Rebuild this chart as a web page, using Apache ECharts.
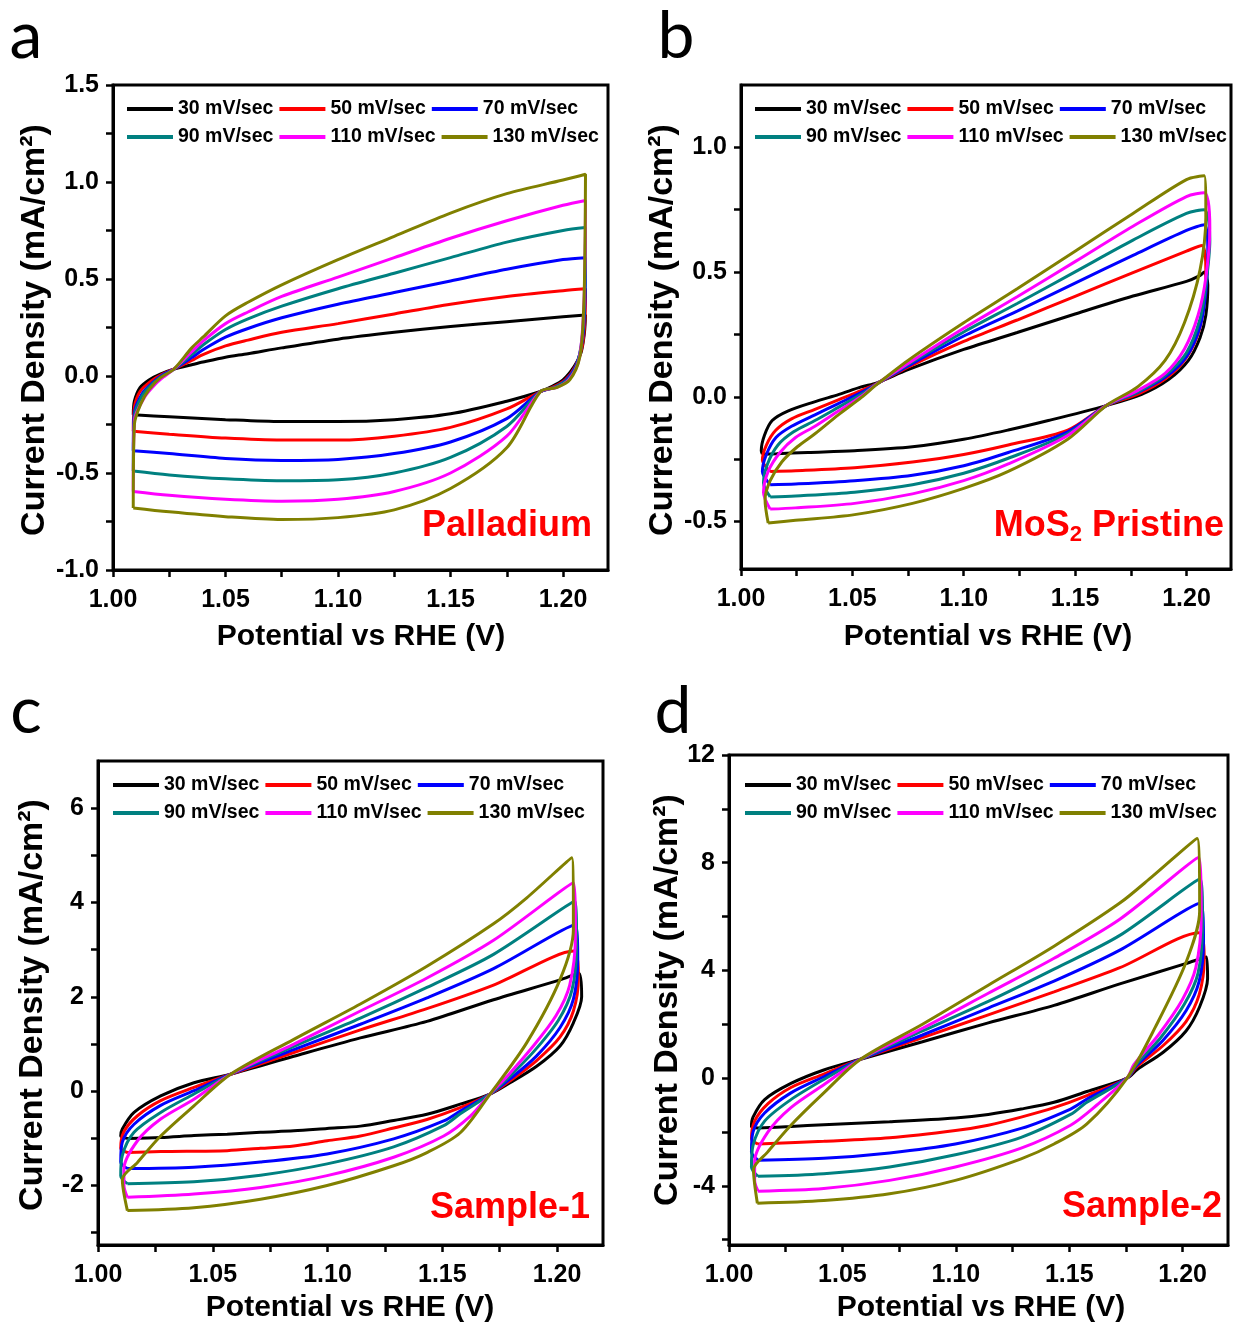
<!DOCTYPE html>
<html><head><meta charset="utf-8">
<script src="https://cdn.jsdelivr.net/npm/echarts@6/dist/echarts.min.js"></script>
<style>html,body{margin:0;padding:0;background:#fff}#c{width:1233px;height:1327px}</style>
</head><body><div id="c"></div>
<script>
const FONT = '"Liberation Sans", Arial, Helvetica, sans-serif';

// ---------- categories / ticks ----------
const rates = ['30 mV/sec', '50 mV/sec', '70 mV/sec', '90 mV/sec', '110 mV/sec', '130 mV/sec'];
const xRange = [1.0, 1.22];
const xLabelValues = [1.00, 1.05, 1.10, 1.15, 1.20];
const xTickValues = [1.00, 1.025, 1.05, 1.075, 1.10, 1.125, 1.15, 1.175, 1.20];
const aRange = [-1.0, 1.5];
const aYLabels = [-1.0, -0.5, 0.0, 0.5, 1.0, 1.5];
const aYTicks = [-1.0, -0.75, -0.5, -0.25, 0, 0.25, 0.5, 0.75, 1.0, 1.25, 1.5];
const bRange = [-0.69, 1.25];
const bYLabels = [-0.5, 0.0, 0.5, 1.0];
const bYTicks = [-0.5, -0.25, 0, 0.25, 0.5, 0.75, 1.0];
const cRange = [-3.26, 7.0];
const cYLabels = [-2, 0, 2, 4, 6];
const cYTicks = [-3, -2, -1, 0, 1, 2, 3, 4, 5, 6];
const dRange = [-6.2, 12];
const dYLabels = [-4, 0, 4, 8, 12];
const dYTicks = [-6, -4, -2, 0, 2, 4, 6, 8, 10, 12];

// ---------- panel a: Palladium (x: V vs RHE, y: mA/cm2) ----------
const a30 = [[1.009,-0.20],[1.0095,-0.13],[1.012,-0.06],[1.016,-0.02],[1.021,0.01],[1.027,0.035],[1.035,0.058],[1.04,0.072],[1.05,0.097],[1.06,0.115],[1.075,0.145],[1.10,0.19],[1.125,0.225],[1.15,0.255],[1.175,0.28],[1.20,0.305],[1.21,0.315],[1.2095,0.22],[1.208,0.12],[1.205,0.05],[1.20,-0.02],[1.194,-0.06],[1.19,-0.08],[1.175,-0.13],[1.15,-0.195],[1.125,-0.225],[1.10,-0.235],[1.075,-0.235],[1.05,-0.225],[1.025,-0.21],[1.009,-0.20]];
const a50 = [[1.009,-0.285],[1.0095,-0.16],[1.012,-0.08],[1.017,-0.025],[1.022,0.01],[1.027,0.035],[1.035,0.08],[1.04,0.11],[1.05,0.155],[1.06,0.185],[1.075,0.225],[1.10,0.27],[1.125,0.32],[1.15,0.37],[1.175,0.41],[1.20,0.44],[1.21,0.45],[1.2098,0.30],[1.2085,0.15],[1.2055,0.05],[1.201,-0.02],[1.195,-0.06],[1.19,-0.08],[1.175,-0.17],[1.15,-0.265],[1.125,-0.31],[1.10,-0.33],[1.075,-0.33],[1.05,-0.32],[1.025,-0.30],[1.009,-0.285]];
const a70 = [[1.009,-0.385],[1.0095,-0.19],[1.013,-0.09],[1.018,-0.03],[1.022,0.005],[1.027,0.035],[1.035,0.095],[1.04,0.135],[1.05,0.20],[1.06,0.245],[1.075,0.30],[1.10,0.37],[1.125,0.43],[1.15,0.49],[1.175,0.55],[1.20,0.60],[1.21,0.61],[1.2098,0.40],[1.2088,0.20],[1.206,0.06],[1.2015,-0.02],[1.196,-0.06],[1.19,-0.08],[1.175,-0.22],[1.15,-0.34],[1.125,-0.40],[1.10,-0.43],[1.075,-0.435],[1.05,-0.425],[1.025,-0.40],[1.009,-0.385]];
const a90 = [[1.009,-0.49],[1.0095,-0.21],[1.013,-0.10],[1.018,-0.035],[1.022,0.0],[1.027,0.035],[1.035,0.11],[1.04,0.16],[1.05,0.24],[1.06,0.295],[1.075,0.36],[1.10,0.45],[1.125,0.53],[1.15,0.61],[1.175,0.69],[1.20,0.75],[1.21,0.765],[1.2098,0.50],[1.209,0.25],[1.2065,0.07],[1.202,-0.02],[1.196,-0.06],[1.19,-0.08],[1.175,-0.26],[1.15,-0.42],[1.125,-0.50],[1.10,-0.535],[1.075,-0.54],[1.05,-0.53],[1.025,-0.51],[1.009,-0.49]];
const a110 = [[1.009,-0.595],[1.0095,-0.23],[1.014,-0.11],[1.019,-0.04],[1.023,0.0],[1.027,0.035],[1.035,0.125],[1.04,0.18],[1.05,0.27],[1.06,0.33],[1.075,0.41],[1.10,0.51],[1.125,0.61],[1.15,0.71],[1.175,0.80],[1.20,0.88],[1.21,0.905],[1.2098,0.60],[1.209,0.30],[1.207,0.08],[1.2025,-0.02],[1.197,-0.06],[1.19,-0.08],[1.175,-0.31],[1.15,-0.50],[1.125,-0.595],[1.10,-0.635],[1.075,-0.645],[1.05,-0.635],[1.025,-0.615],[1.009,-0.595]];
const a130 = [[1.009,-0.68],[1.0095,-0.25],[1.0125,-0.14],[1.016,-0.07],[1.021,-0.01],[1.027,0.035],[1.035,0.145],[1.04,0.20],[1.05,0.31],[1.06,0.38],[1.075,0.47],[1.10,0.60],[1.125,0.72],[1.15,0.84],[1.175,0.94],[1.20,1.01],[1.21,1.04],[1.2098,0.70],[1.2092,0.35],[1.2075,0.10],[1.203,-0.02],[1.197,-0.06],[1.19,-0.08],[1.175,-0.37],[1.15,-0.58],[1.125,-0.69],[1.10,-0.73],[1.075,-0.74],[1.05,-0.725],[1.025,-0.70],[1.009,-0.68]];

// ---------- panel b: MoS2 Pristine ----------
const b30 = [[1.0096,-0.23],[1.0091,-0.216],[1.0105,-0.155],[1.014,-0.095],[1.021,-0.057],[1.033,-0.02],[1.044,0.01],[1.054,0.04],[1.061,0.056],[1.075,0.109],[1.10,0.19],[1.124,0.258],[1.15,0.332],[1.176,0.404],[1.20,0.463],[1.206,0.486],[1.208,0.50],[1.2096,0.448],[1.2087,0.327],[1.2061,0.237],[1.2009,0.146],[1.1921,0.07],[1.1799,0.01],[1.164,-0.035],[1.138,-0.095],[1.12,-0.133],[1.10,-0.17],[1.077,-0.20],[1.051,-0.216],[1.03,-0.223],[1.016,-0.228],[1.0096,-0.23]];
const b50 = [[1.0131,-0.299],[1.0096,-0.253],[1.0114,-0.193],[1.0157,-0.133],[1.0227,-0.088],[1.0332,-0.05],[1.0437,-0.012],[1.0541,0.026],[1.061,0.053],[1.075,0.119],[1.10,0.222],[1.124,0.308],[1.15,0.403],[1.176,0.498],[1.20,0.584],[1.207,0.607],[1.2087,0.509],[1.2079,0.373],[1.2052,0.252],[1.1991,0.146],[1.1904,0.071],[1.1782,0.011],[1.164,-0.035],[1.1467,-0.133],[1.12,-0.193],[1.10,-0.231],[1.077,-0.261],[1.051,-0.284],[1.0245,-0.296],[1.0131,-0.299]];
const b70 = [[1.0131,-0.352],[1.0096,-0.299],[1.0114,-0.231],[1.0157,-0.163],[1.0227,-0.118],[1.0332,-0.072],[1.0437,-0.027],[1.0541,0.018],[1.061,0.052],[1.075,0.124],[1.10,0.244],[1.124,0.344],[1.15,0.456],[1.176,0.567],[1.20,0.667],[1.208,0.69],[1.2096,0.569],[1.2087,0.418],[1.2061,0.282],[1.20,0.161],[1.1904,0.078],[1.1782,0.018],[1.164,-0.035],[1.1467,-0.14],[1.12,-0.223],[1.10,-0.276],[1.077,-0.314],[1.051,-0.336],[1.0245,-0.349],[1.0131,-0.352]];
const b90 = [[1.0131,-0.401],[1.0101,-0.344],[1.0119,-0.269],[1.0166,-0.193],[1.0236,-0.14],[1.0332,-0.095],[1.0437,-0.042],[1.0541,0.011],[1.061,0.052],[1.075,0.13],[1.10,0.26],[1.124,0.374],[1.15,0.501],[1.176,0.628],[1.20,0.735],[1.208,0.75],[1.2105,0.629],[1.2087,0.448],[1.2061,0.312],[1.20,0.177],[1.1904,0.086],[1.1782,0.02],[1.164,-0.035],[1.1467,-0.148],[1.12,-0.246],[1.10,-0.306],[1.077,-0.352],[1.051,-0.382],[1.0245,-0.397],[1.0131,-0.401]];
const b110 = [[1.0131,-0.45],[1.0101,-0.382],[1.0122,-0.299],[1.0175,-0.223],[1.0245,-0.163],[1.0332,-0.118],[1.0437,-0.057],[1.0541,0.003],[1.061,0.052],[1.075,0.134],[1.10,0.275],[1.124,0.401],[1.15,0.542],[1.176,0.684],[1.20,0.803],[1.208,0.818],[1.2105,0.675],[1.2087,0.478],[1.2052,0.327],[1.1991,0.192],[1.1904,0.094],[1.1782,0.026],[1.164,-0.035],[1.1467,-0.155],[1.12,-0.269],[1.10,-0.336],[1.077,-0.389],[1.051,-0.427],[1.0245,-0.445],[1.0131,-0.45]];
const b130 = [[1.0122,-0.506],[1.0108,-0.412],[1.0131,-0.336],[1.0183,-0.261],[1.0253,-0.20],[1.0332,-0.148],[1.0437,-0.072],[1.0541,-0.002],[1.061,0.05],[1.075,0.146],[1.10,0.297],[1.124,0.433],[1.15,0.584],[1.176,0.735],[1.20,0.871],[1.208,0.886],[1.2087,0.72],[1.2061,0.509],[1.1991,0.297],[1.1904,0.146],[1.1782,0.041],[1.164,-0.035],[1.1467,-0.17],[1.12,-0.299],[1.10,-0.367],[1.077,-0.427],[1.051,-0.472],[1.0245,-0.495],[1.0122,-0.506]];

// ---------- panel c: Sample-1 ----------
const c30 = [[1.0128,-1.0],[1.0099,-0.95],[1.0106,-0.80],[1.0157,-0.45],[1.0273,-0.10],[1.0418,0.18],[1.0578,0.36],[1.0853,0.74],[1.1143,1.13],[1.1433,1.48],[1.1723,1.94],[1.2013,2.36],[1.2095,2.5],[1.2107,2.0],[1.2071,1.45],[1.2013,0.96],[1.1911,0.53],[1.1795,0.18],[1.1708,-0.06],[1.1578,-0.275],[1.1433,-0.49],[1.1288,-0.62],[1.1143,-0.74],[1.0998,-0.79],[1.0853,-0.84],[1.0708,-0.87],[1.0563,-0.91],[1.0418,-0.94],[1.0273,-0.98],[1.0128,-1.0]];
const c50 = [[1.0128,-1.30],[1.0099,-1.21],[1.0113,-0.86],[1.0172,-0.52],[1.0273,-0.20],[1.0418,0.08],[1.0578,0.36],[1.0853,0.82],[1.1143,1.30],[1.1433,1.75],[1.1723,2.25],[1.2071,2.97],[1.2093,2.4],[1.2071,1.7],[1.2013,1.15],[1.1911,0.65],[1.1795,0.22],[1.1708,-0.06],[1.1578,-0.35],[1.1433,-0.60],[1.1288,-0.78],[1.1143,-0.95],[1.0998,-1.05],[1.0853,-1.16],[1.0708,-1.21],[1.0563,-1.26],[1.0273,-1.28],[1.0128,-1.30]];
const c70 = [[1.0128,-1.64],[1.0099,-1.5],[1.0106,-1.08],[1.0157,-0.70],[1.0273,-0.30],[1.0418,0.01],[1.0578,0.36],[1.0853,0.88],[1.1143,1.42],[1.1433,1.98],[1.1723,2.6],[1.2078,3.53],[1.209,2.8],[1.2071,1.95],[1.2013,1.35],[1.1911,0.75],[1.1795,0.26],[1.1708,-0.06],[1.1578,-0.42],[1.1506,-0.63],[1.1288,-1.01],[1.0998,-1.33],[1.0708,-1.5],[1.0418,-1.61],[1.0128,-1.64]];
const c90 = [[1.0128,-1.96],[1.0099,-1.79],[1.0106,-1.36],[1.0157,-0.87],[1.0273,-0.45],[1.0418,-0.06],[1.0578,0.36],[1.0853,0.95],[1.1143,1.55],[1.1433,2.2],[1.1723,2.9],[1.2078,4.03],[1.2085,3.1],[1.2065,2.15],[1.2005,1.5],[1.19,0.85],[1.179,0.3],[1.1708,-0.06],[1.1578,-0.48],[1.1506,-0.73],[1.1288,-1.18],[1.0998,-1.54],[1.0708,-1.78],[1.0418,-1.92],[1.0128,-1.96]];
const c110 = [[1.0128,-2.25],[1.0113,-2.0],[1.0113,-1.65],[1.0172,-1.05],[1.0273,-0.59],[1.0418,-0.17],[1.0578,0.36],[1.0853,1.0],[1.1143,1.7],[1.1433,2.4],[1.1723,3.2],[1.2071,4.42],[1.208,3.3],[1.2055,2.25],[1.1995,1.6],[1.189,0.92],[1.1785,0.33],[1.1708,-0.06],[1.1622,-0.53],[1.1506,-0.95],[1.1288,-1.40],[1.0998,-1.79],[1.0708,-2.04],[1.0418,-2.18],[1.0128,-2.25]];
const c130 = [[1.0128,-2.53],[1.0106,-1.87],[1.0172,-1.51],[1.0273,-0.95],[1.0418,-0.31],[1.0578,0.36],[1.0853,1.1],[1.1143,1.85],[1.1433,2.65],[1.1723,3.55],[1.1868,4.1],[1.2064,4.95],[1.2071,3.43],[1.2013,2.37],[1.1868,1.03],[1.1708,-0.06],[1.1578,-0.88],[1.1433,-1.30],[1.1288,-1.58],[1.0998,-2.0],[1.0708,-2.29],[1.0418,-2.47],[1.0128,-2.53]];

// ---------- panel d: Sample-2 ----------
const d30 = [[1.0128,-1.85],[1.0099,-1.8],[1.0106,-1.45],[1.0157,-0.8],[1.0273,-0.2],[1.0418,0.3],[1.058,0.7],[1.0853,1.35],[1.1143,2.05],[1.1433,2.7],[1.1723,3.5],[1.2013,4.25],[1.2105,4.5],[1.211,3.7],[1.2075,2.65],[1.2015,1.75],[1.1913,0.95],[1.18,0.32],[1.1755,0.0],[1.1578,-0.5],[1.1433,-0.9],[1.1288,-1.15],[1.1143,-1.35],[1.0998,-1.48],[1.0708,-1.62],[1.0418,-1.73],[1.0273,-1.8],[1.0128,-1.85]];
const d50 = [[1.0128,-2.45],[1.0099,-2.25],[1.0113,-1.6],[1.0172,-0.95],[1.0273,-0.35],[1.0418,0.15],[1.058,0.7],[1.0853,1.5],[1.1143,2.35],[1.1433,3.2],[1.1723,4.1],[1.2071,5.4],[1.2095,4.4],[1.2073,3.1],[1.2015,2.1],[1.1913,1.2],[1.1795,0.4],[1.1755,0.0],[1.1578,-0.65],[1.1433,-1.1],[1.1288,-1.45],[1.1143,-1.75],[1.0998,-1.95],[1.0708,-2.22],[1.0418,-2.35],[1.0128,-2.45]];
const d70 = [[1.0128,-3.05],[1.0099,-2.75],[1.0106,-2.0],[1.0157,-1.3],[1.0273,-0.55],[1.0418,0.05],[1.058,0.7],[1.0853,1.6],[1.1143,2.6],[1.1433,3.6],[1.1723,4.75],[1.2078,6.5],[1.2092,5.1],[1.2073,3.6],[1.2015,2.5],[1.1913,1.4],[1.1795,0.45],[1.1755,0.0],[1.1578,-0.78],[1.1506,-1.15],[1.1288,-1.87],[1.0998,-2.45],[1.0708,-2.78],[1.0418,-2.98],[1.0128,-3.05]];
const d90 = [[1.0128,-3.65],[1.0099,-3.3],[1.0106,-2.5],[1.0157,-1.6],[1.0273,-0.8],[1.0418,-0.05],[1.058,0.7],[1.0853,1.75],[1.1143,2.85],[1.1433,4.05],[1.1723,5.3],[1.2078,7.4],[1.2088,5.7],[1.2068,3.9],[1.2008,2.75],[1.1903,1.5],[1.179,0.45],[1.1755,0.0],[1.1578,-0.9],[1.1506,-1.35],[1.1288,-2.2],[1.0998,-2.85],[1.0708,-3.3],[1.0418,-3.55],[1.0128,-3.65]];
const d110 = [[1.0128,-4.2],[1.0113,-3.8],[1.0113,-3.1],[1.0172,-2.0],[1.0273,-1.1],[1.0418,-0.25],[1.058,0.7],[1.0853,1.85],[1.1143,3.15],[1.1433,4.45],[1.1723,5.9],[1.2071,8.2],[1.2082,6.0],[1.2058,4.1],[1.1998,2.9],[1.1893,1.6],[1.1785,0.5],[1.1755,0.0],[1.1622,-1.0],[1.1506,-1.75],[1.1288,-2.6],[1.0998,-3.3],[1.0708,-3.8],[1.0418,-4.1],[1.0128,-4.2]];
const d130 = [[1.0125,-4.65],[1.0108,-3.4],[1.017,-2.75],[1.0273,-1.75],[1.0418,-0.55],[1.058,0.7],[1.0853,2.0],[1.1143,3.45],[1.1433,4.9],[1.1723,6.5],[1.1868,7.5],[1.2064,8.9],[1.2075,6.2],[1.2015,4.3],[1.188,1.9],[1.1755,0.0],[1.1578,-1.7],[1.1433,-2.45],[1.1288,-3.0],[1.0998,-3.8],[1.0708,-4.3],[1.0418,-4.55],[1.0125,-4.65]];

// ---------- styling / layout ----------
const colors = ['#000000', '#ff0000', '#0000ff', '#008080', '#ff00ff', '#808000'];
const panels = [
  { grid: { left: 113, top: 85, width: 495, height: 485 }, yr: aRange, yl: aYLabels, yt: aYTicks, dec: 1,
    loops: [a30, a50, a70, a90, a110, a130], legend: [127, 99] },
  { grid: { left: 741, top: 85, width: 490, height: 484 }, yr: bRange, yl: bYLabels, yt: bYTicks, dec: 1,
    loops: [b30, b50, b70, b90, b110, b130], legend: [755, 99] },
  { grid: { left: 98, top: 761, width: 505, height: 484 }, yr: cRange, yl: cYLabels, yt: cYTicks, dec: 0,
    loops: [c30, c50, c70, c90, c110, c130], legend: [113, 775] },
  { grid: { left: 729, top: 755, width: 499, height: 490 }, yr: dRange, yl: dYLabels, yt: dYTicks, dec: 0,
    loops: [d30, d50, d70, d90, d110, d130], legend: [745, 775] }
];

const grids = [], xAxes = [], yAxes = [], series = [], legends = [];
panels.forEach((p, i) => {
  grids.push(Object.assign({ show: true, borderColor: '#000', borderWidth: 3, containLabel: false, outerBoundsMode: 'none' }, p.grid));
  xAxes.push({
    type: 'value', gridIndex: i, min: xRange[0], max: xRange[1],
    axisLine: { show: true, onZero: false, lineStyle: { color: '#000', width: 3 } },
    axisTick: { show: true, customValues: xTickValues, length: 7, lineStyle: { color: '#000', width: 2.5 } },
    axisLabel: { customValues: xLabelValues, formatter: v => Number(v).toFixed(2), margin: 18,
      fontSize: 25, fontWeight: 'bold', fontFamily: FONT, color: '#000' },
    splitLine: { show: false }
  });
  yAxes.push({
    type: 'value', gridIndex: i, min: p.yr[0], max: p.yr[1],
    axisLine: { show: true, onZero: false, lineStyle: { color: '#000', width: 3 } },
    axisTick: { show: true, customValues: p.yt, length: 7, lineStyle: { color: '#000', width: 2.5 } },
    axisLabel: { customValues: p.yl, formatter: v => Number(v).toFixed(p.dec), margin: 14,
      fontSize: 25, fontWeight: 'bold', fontFamily: FONT, color: '#000' },
    splitLine: { show: false }
  });
  p.loops.forEach((loop, k) => {
    series.push({
      type: 'line', name: rates[k], xAxisIndex: i, yAxisIndex: i, data: loop,
      showSymbol: false, symbol: 'none', smooth: 0.3,
      lineStyle: { width: 3, color: colors[k] }, itemStyle: { color: colors[k] },
      z: 2 + k, silent: true
    });
  });
  [0, 1].forEach(r => {
    legends.push({
      data: rates.slice(r * 3, r * 3 + 3), left: p.legend[0], top: p.legend[1] + r * 28, width: 560,
      orient: 'horizontal', icon: 'rect', itemWidth: 46, itemHeight: 4, itemGap: 6, padding: 0,
      selectedMode: false,
      textStyle: { fontSize: 19.5, fontWeight: 'bold', fontFamily: FONT, color: '#000' }
    });
  });
});

function txt(x, y, text, size, opts) {
  return Object.assign({
    type: 'text', x: x, y: y, silent: true,
    style: Object.assign({ text: text, fontSize: size, fontWeight: 'bold', fontFamily: FONT, fill: '#000',
      align: 'center', verticalAlign: 'middle', textAlign: 'center', textVerticalAlign: 'middle' }, opts && opts.style)
  }, opts && opts.el);
}
const yTitle = 'Current Density (mA/cm²)';
const xTitle = 'Potential vs RHE (V)';
const letterStyle = { style: { fontFamily: 'Lato, "Open Sans", sans-serif', fontWeight: 'normal' } };
const redRight = { style: { fill: '#ff0000', align: 'right', textAlign: 'right' } };
const graphics = [
  txt(26, 37, 'a', 66, letterStyle), txt(676, 37, 'b', 66, letterStyle),
  txt(26, 712, 'c', 66, letterStyle), txt(673, 712, 'd', 66, letterStyle),
  txt(35, 330, yTitle, 34, { el: { rotation: Math.PI / 2 } }),
  txt(663, 330, yTitle, 34, { el: { rotation: Math.PI / 2 } }),
  txt(33, 1005, yTitle, 34, { el: { rotation: Math.PI / 2 } }),
  txt(668, 1000, yTitle, 34, { el: { rotation: Math.PI / 2 } }),
  txt(361, 637, xTitle, 30), txt(988, 637, xTitle, 30),
  txt(350, 1308, xTitle, 30), txt(981, 1308, xTitle, 30),
  txt(592, 526, 'Palladium', 36, redRight),
  {
    type: 'text', x: 1224, y: 526, silent: true,
    style: { text: '{m|MoS}{s|2}{m| Pristine}', align: 'right', textAlign: 'right', verticalAlign: 'middle', textVerticalAlign: 'middle',
      fill: '#ff0000', fontFamily: FONT, fontWeight: 'bold', fontSize: 36,
      rich: {
        m: { fontSize: 36, fontWeight: 'bold', fontFamily: FONT, fill: '#ff0000', color: '#ff0000', lineHeight: 40 },
        s: { fontSize: 22, fontWeight: 'bold', fontFamily: FONT, fill: '#ff0000', color: '#ff0000', lineHeight: 12, verticalAlign: 'bottom' }
      } }
  },
  txt(590, 1208, 'Sample-1', 36, redRight),
  txt(1222, 1207, 'Sample-2', 36, redRight)
];

const chart = echarts.init(document.getElementById('c'), null, { renderer: 'canvas' });
chart.setOption({
  animation: false,
  backgroundColor: '#ffffff',
  grid: grids, xAxis: xAxes, yAxis: yAxes, series: series, legend: legends, graphic: graphics
});
</script></body></html>
